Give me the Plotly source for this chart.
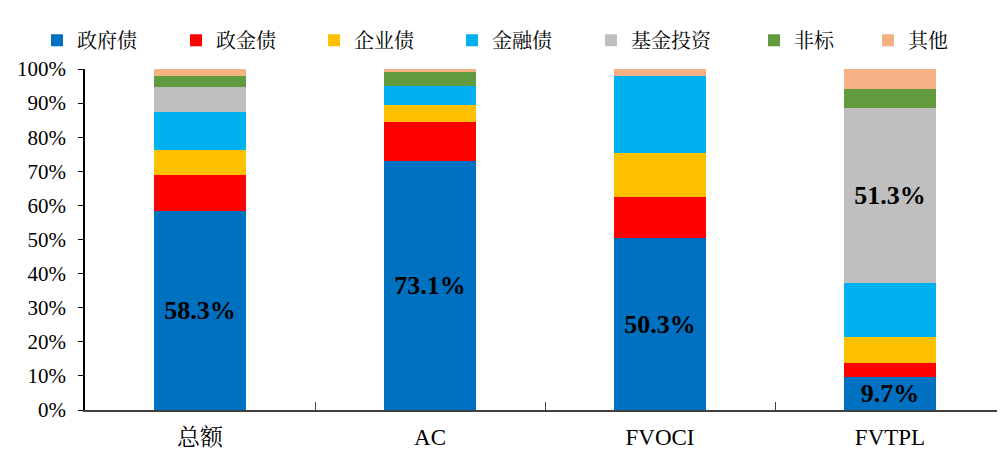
import plotly.graph_objects as go

categories = ["总额", "AC", "FVOCI", "FVTPL"]
series_names = ["政府债", "政金债", "企业债", "金融债", "基金投资", "非标", "其他"]
gov = [58.3, 73.1, 50.3, 9.7]
policy_fin = [10.5, 11.4, 12.1, 4.0]
corporate = [7.4, 4.9, 13.1, 7.8]
financial = [11.3, 5.7, 22.4, 15.8]
fund = [7.3, 0.0, 0.0, 51.3]
nonstd = [3.2, 4.1, 0.0, 5.4]
other = [2.0, 0.8, 2.1, 6.0]
labels_gov = ["58.3%", "73.1%", "50.3%", "9.7%"]
labels_fund = ["", "", "", "51.3%"]

values = [gov, policy_fin, corporate, financial, fund, nonstd, other]
colors = ["#0070C0", "#FF0000", "#FFC000", "#00B0F0", "#BFBFBF", "#629B3F", "#F4B183"]
texts = [labels_gov, None, None, None, labels_fund, None, None]

serif = "Times New Roman, Liberation Serif, Noto Serif CJK SC, Noto Sans CJK SC, serif"
W, H = 997, 447
legend_px = [29, 168, 306, 444, 583, 746, 860]

fig = go.Figure()
legend_ids = ["legend"] + [f"legend{i}" for i in range(2, 8)]
for name, vals, col, txt, lid in zip(series_names, values, colors, texts, legend_ids):
    fig.add_trace(go.Bar(
        x=categories, y=[v / 100 for v in vals], name=name,
        legend=lid,
        marker=dict(color=col, line=dict(width=0)),
        text=txt if txt else None,
        texttemplate="%{text}" if txt else None,
        textposition="inside" if txt else "none",
        insidetextanchor="middle",
        textangle=0,
        constraintext="none",
        textfont=dict(family=serif, size=26, color="black", weight="bold"),
        hoverinfo="skip",
    ))

legend_style = dict(
    orientation="h",
    xref="container", yref="container",
    y=0.928, xanchor="left", yanchor="middle",
    font=dict(family="Noto Serif CJK SC, Noto Sans CJK SC, serif", size=20, color="black"),
    itemclick=False, bgcolor="rgba(0,0,0,0)",
)
legend_layout = {}
for lid, px in zip(legend_ids, legend_px):
    legend_layout[lid] = dict(legend_style, x=px / W)

fig.update_layout(
    barmode="stack",
    bargap=0.6,
    width=W, height=H,
    margin=dict(l=77, r=0, t=61, b=45, autoexpand=False),
    paper_bgcolor="white", plot_bgcolor="white",
    font=dict(family=serif, size=21, color="black"),
    showlegend=True,
    xaxis=dict(
        type="category", automargin=False,
        showline=True, linecolor="#404040", linewidth=1.5,
        ticks="inside", ticklen=8, tickcolor="#404040",
        tickson="boundaries",
        ticklabelstandoff=6,
        tickfont=dict(family=serif, size=23, color="black"),
        showgrid=False,
    ),
    yaxis=dict(
        range=[0, 1], tickvals=[i / 10 for i in range(11)],
        tickformat=".0%", automargin=False,
        showline=True, linecolor="black", linewidth=1.5,
        ticks="outside", ticklen=5, tickcolor="black",
        showgrid=False, zeroline=False,
        ticklabelstandoff=8,
        tickfont=dict(family=serif, size=21, color="black"),
    ),
    **legend_layout,
)

fig.write_html("out.html")
